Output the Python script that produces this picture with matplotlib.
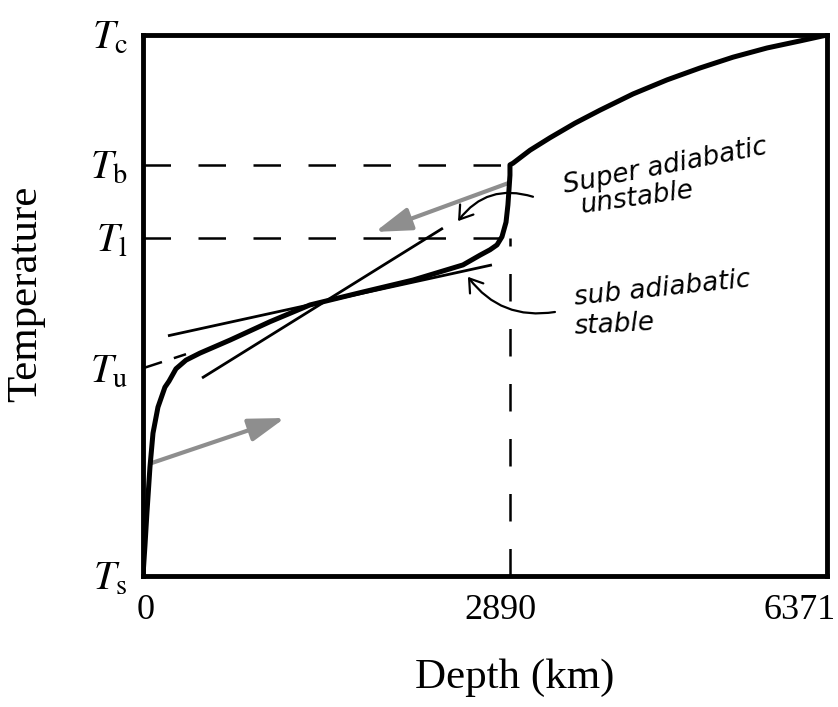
import numpy as np
import matplotlib
matplotlib.use("Agg")
import matplotlib.pyplot as plt
from matplotlib.patches import FancyArrowPatch
from matplotlib import transforms

# temperature profile through the Earth (schematic, T normalised Ts=0 .. Tc=1)
profile_depth = [0, 16, 31, 55, 79, 118, 173, 205, 260, 339, 449, 685, 1000,
                 1315, 1733, 2126, 2520, 2654, 2733, 2788, 2827, 2859, 2874,
                 2882, 2890, 2890,
                 2923, 3110, 3329, 3604, 3878, 4241, 4614, 4976, 5339, 5712,
                 6074, 6371]
profile_temp = [0.000, 0.057, 0.116, 0.201, 0.264, 0.312, 0.349, 0.360, 0.383,
                0.399, 0.412, 0.436, 0.470, 0.501, 0.525, 0.547, 0.575, 0.593,
                0.603, 0.612, 0.627, 0.654, 0.686, 0.713, 0.741, 0.760,
                0.763, 0.787, 0.810, 0.837, 0.861, 0.891, 0.917, 0.939, 0.959,
                0.976, 0.989, 1.000]

# tangent (adiabat) lines
steep_depth = [465, 2362]
steep_temp = [0.366, 0.643]
shallow_depth = [197, 2748]
shallow_temp = [0.444, 0.575]
tu_ext_depth = [0, 339]
tu_ext_temp = [0.384, 0.410]

temp_ticks = [0.0, 0.384, 0.625, 0.760, 1.0]
temp_labels = [r"$T_{\mathrm{s}}$", r"$T_{\mathrm{u}}$", r"$T_{\mathrm{l}}$",
               r"$T_{\mathrm{b}}$", r"$T_{\mathrm{c}}$"]
depth_ticks = [0, 2890, 6371]
depth_labels = ["0", "2890", "6371"]

T_l, T_b = 0.625, 0.760
CMB, R_EARTH = 2890, 6371

# gray flow arrows (tail, head)
flow_up = [(71, 0.209), (1118, 0.292)]
flow_down = [(2874, 0.726), (1827, 0.636)]
# annotation pointers (from text, to line)
ptr_super = [(3143, 0.701), (2481, 0.656)]
ptr_sub = [(3384, 0.488), (2559, 0.553)]

plt.rcParams["mathtext.fontset"] = "stix"
plt.rcParams["font.family"] = "Liberation Serif"

# mantle drawn wider than its share of the radius
frac = 0.5365


def fwd(x):
    x = np.asarray(x, float)
    return np.where(x <= CMB, x / CMB * frac,
                    frac + (x - CMB) / (R_EARTH - CMB) * (1 - frac))


def inv(u):
    u = np.asarray(u, float)
    return np.where(u <= frac, u / frac * CMB,
                    CMB + (u - frac) / (1 - frac) * (R_EARTH - CMB))


fig, ax = plt.subplots(figsize=(8.38, 7.07), dpi=100)
fig.subplots_adjust(left=0.1706, right=0.9869, bottom=0.1853, top=0.9505)
ax.set_xscale("function", functions=(fwd, inv))
ax.set_xlim(0, R_EARTH)
ax.set_ylim(0, 1)

dash = dict(color="black", lw=1.8, dashes=(11, 11))
ax.plot([0, CMB], [T_b, T_b], **dash)
ax.plot([0, CMB], [T_l, T_l], **dash)
ax.plot([CMB, CMB], [0, T_l], **dash)
ax.plot(tu_ext_depth, tu_ext_temp, color="black", lw=1.8, dashes=(8, 5))

ax.plot(steep_depth, steep_temp, color="black", lw=2.0, solid_capstyle="butt")
ax.plot(shallow_depth, shallow_temp, color="black", lw=2.0, solid_capstyle="butt")
ax.plot(profile_depth, profile_temp, color="black", lw=3.6,
        solid_joinstyle="round", zorder=4)

for tail, head in (flow_up, flow_down):
    ax.add_patch(FancyArrowPatch(tail, head,
                                 arrowstyle="-|>,head_length=1.1,head_width=0.35",
                                 mutation_scale=20, color="#8e8e8e", lw=3.0,
                                 shrinkA=0, shrinkB=0, zorder=3))

for (tail, head), rad in ((ptr_super, 0.35), (ptr_sub, -0.3)):
    ax.add_patch(FancyArrowPatch(tail, head, connectionstyle=f"arc3,rad={rad}",
                                 arrowstyle="->,head_length=0.45,head_width=0.3",
                                 mutation_scale=20, color="black", lw=1.6,
                                 shrinkA=0, shrinkB=0, zorder=3))

hand = dict(family="DejaVu Sans", style="italic", fontsize=19,
            ha="left", va="baseline", rotation_mode="anchor")
ax.text(3490, 0.708, "Super adiabatic", rotation=11, **hand)
ax.text(3680, 0.671, "unstable", rotation=8, **hand)
ax.text(3600, 0.501, "sub adiabatic", rotation=6, **hand)
ax.text(3600, 0.447, "stable", rotation=3, **hand)

ax.set_yticks(temp_ticks, temp_labels, fontsize=29)
ax.set_xticks(depth_ticks, depth_labels, fontsize=26)
ax.tick_params(axis="both", length=0)
ax.tick_params(axis="y", pad=11)
ax.tick_params(axis="x", pad=13)
ax.xaxis.set_minor_locator(plt.NullLocator())

# nudge x tick labels the way they sit in the figure
for lab, dx in zip(ax.get_xticklabels(), [3, -10, -27]):
    lab.set_transform(lab.get_transform() +
                      transforms.ScaledTranslation(dx / 100, 0, fig.dpi_scale_trans))

for s in ax.spines.values():
    s.set_linewidth(3.5)

ax.set_xlabel("Depth (km)", fontsize=31)
ax.xaxis.set_label_coords(0.544, -0.152)
ax.set_ylabel("Temperature", fontsize=31)
ax.yaxis.set_label_coords(-0.143, 0.522)

fig.savefig("out.png", dpi=100)
